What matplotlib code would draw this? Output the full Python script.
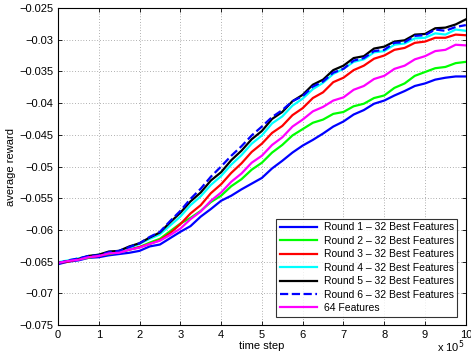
import matplotlib
matplotlib.use("Agg")
import matplotlib.pyplot as plt
import matplotlib.ticker as mticker

plt.rcParams['font.family'] = ['Liberation Sans', 'DejaVu Sans']

# time step in units of 1e5
steps = [0, 0.25, 0.5, 0.75, 1, 1.25, 1.5, 1.75, 2, 2.25, 2.5, 2.75, 3, 3.25, 3.5, 3.75, 4, 4.25, 4.5, 4.75,
         5, 5.25, 5.5, 5.75, 6, 6.25, 6.5, 6.75, 7, 7.25, 7.5, 7.75, 8, 8.25, 8.5, 8.75, 9, 9.25, 9.5, 9.75, 10]

round1 = [-0.0654, -0.0650, -0.0648, -0.0644, -0.0643, -0.0640, -0.0638, -0.0636, -0.0633, -0.0626, -0.0623,
          -0.0613, -0.0603, -0.0594, -0.0579, -0.0567, -0.0554, -0.0546, -0.0536, -0.0527, -0.0518, -0.0503,
          -0.0491, -0.0478, -0.0467, -0.0458, -0.0448, -0.0437, -0.0429, -0.0418, -0.0411, -0.0401, -0.0396,
          -0.0388, -0.0381, -0.0373, -0.0369, -0.0363, -0.0360, -0.0358, -0.0358]
round2 = [-0.0652, -0.0649, -0.0646, -0.0644, -0.0640, -0.0638, -0.0635, -0.0631, -0.0627, -0.0620, -0.0614,
          -0.0602, -0.0590, -0.0581, -0.0570, -0.0556, -0.0546, -0.0531, -0.0520, -0.0505, -0.0494, -0.0478,
          -0.0466, -0.0451, -0.0441, -0.0431, -0.0426, -0.0417, -0.0414, -0.0405, -0.0401, -0.0392, -0.0388,
          -0.0376, -0.0369, -0.0357, -0.0351, -0.0345, -0.0343, -0.0337, -0.0335]
round3 = [-0.0652, -0.0650, -0.0646, -0.0643, -0.0641, -0.0637, -0.0635, -0.0631, -0.0627, -0.0622, -0.0616,
          -0.0605, -0.0591, -0.0574, -0.0561, -0.0542, -0.0528, -0.0510, -0.0495, -0.0477, -0.0464, -0.0447,
          -0.0436, -0.0419, -0.0408, -0.0392, -0.0383, -0.0367, -0.0360, -0.0348, -0.0341, -0.0330, -0.0325,
          -0.0316, -0.0313, -0.0305, -0.0303, -0.0297, -0.0297, -0.0292, -0.0293]
round4 = [-0.0651, -0.0648, -0.0645, -0.0642, -0.0639, -0.0636, -0.0633, -0.0628, -0.0622, -0.0614, -0.0607,
          -0.0593, -0.0579, -0.0561, -0.0547, -0.0529, -0.0515, -0.0497, -0.0482, -0.0464, -0.0451, -0.0432,
          -0.0421, -0.0404, -0.0393, -0.0378, -0.0368, -0.0354, -0.0346, -0.0335, -0.0331, -0.0320, -0.0318,
          -0.0308, -0.0306, -0.0298, -0.0297, -0.0290, -0.0292, -0.0284, -0.0286]
round5 = [-0.0652, -0.0649, -0.0646, -0.0641, -0.0639, -0.0634, -0.0633, -0.0626, -0.0621, -0.0612, -0.0604,
          -0.0588, -0.0573, -0.0555, -0.0541, -0.0522, -0.0509, -0.0490, -0.0475, -0.0457, -0.0444, -0.0425,
          -0.0414, -0.0397, -0.0387, -0.0371, -0.0363, -0.0348, -0.0341, -0.0329, -0.0326, -0.0314, -0.0311,
          -0.0303, -0.0301, -0.0292, -0.0291, -0.0282, -0.0281, -0.0276, -0.0268]
round6 = [-0.0653, -0.0648, -0.0645, -0.0641, -0.0640, -0.0635, -0.0633, -0.0627, -0.0621, -0.0611, -0.0603,
          -0.0586, -0.0570, -0.0551, -0.0535, -0.0516, -0.0500, -0.0483, -0.0468, -0.0451, -0.0437, -0.0422,
          -0.0411, -0.0397, -0.0389, -0.0374, -0.0366, -0.0352, -0.0346, -0.0333, -0.0329, -0.0318, -0.0316,
          -0.0305, -0.0304, -0.0294, -0.0293, -0.0284, -0.0286, -0.0280, -0.0277]
feat64 = [-0.0652, -0.0649, -0.0647, -0.0643, -0.0641, -0.0637, -0.0636, -0.0631, -0.0628, -0.0622, -0.0617,
          -0.0608, -0.0598, -0.0583, -0.0571, -0.0554, -0.0541, -0.0524, -0.0511, -0.0494, -0.0483, -0.0466,
          -0.0454, -0.0437, -0.0426, -0.0413, -0.0406, -0.0396, -0.0391, -0.0379, -0.0373, -0.0362, -0.0357,
          -0.0346, -0.0341, -0.0331, -0.0326, -0.0318, -0.0316, -0.0308, -0.0309]

labels = ["Round 1 \u2013 32 Best Features", "Round 2 \u2013 32 Best Features",
          "Round 3 \u2013 32 Best Features", "Round 4 \u2013 32 Best Features",
          "Round 5 \u2013 32 Best Features", "Round 6 \u2013 32 Best Features",
          "64 Features"]
xticks = [0, 1, 2, 3, 4, 5, 6, 7, 8, 9, 10]
yticks = [-0.075, -0.07, -0.065, -0.06, -0.055, -0.05, -0.045, -0.04, -0.035, -0.03, -0.025]

fig = plt.figure(figsize=(4.71, 3.62), dpi=100)
ax = fig.add_axes([0.123, 0.102, 0.866, 0.876])

series = [round1, round2, round3, round4, round5, round6, feat64]
colors = ['#0000ff', '#00ff00', '#ff0000', '#00ffff', '#000000', '#0000ff', '#ff00ff']
styles = ['-', '-', '-', '-', '-', '--', '-']
for s, c, ls, lab in zip(series, colors, styles, labels):
    ax.plot(steps, s, color=c, linestyle=ls, linewidth=1.6, label=lab)

ax.set_xlim(0, 10)
ax.set_ylim(-0.075, -0.025)
ax.set_xticks(xticks)
ax.set_yticks(yticks)
ax.yaxis.set_major_formatter(mticker.FuncFormatter(lambda v, p: ('%g' % v).replace('-', '\u2212')))
ax.tick_params(direction='in', top=True, right=True, labelsize=8, length=3, width=0.6)
ax.grid(True, linestyle=(0, (1, 3)), color='#000000', linewidth=0.5, alpha=0.6)
for sp in ax.spines.values():
    sp.set_linewidth(0.8)

ax.set_xlabel("time step", fontsize=8, labelpad=1)
ax.set_ylabel("average reward", fontsize=8, labelpad=2)
fig.text(0.985, 0.018, r"x 10$^{5}$", ha='right', va='bottom', fontsize=8)

leg = ax.legend(loc='lower right', fontsize=7.5, frameon=True, fancybox=False,
                edgecolor='black', handlelength=3.6, labelspacing=0.33,
                borderpad=0.35, handletextpad=0.6, borderaxespad=0.8)
leg.get_frame().set_linewidth(0.8)

fig.savefig("out.png", dpi=100)
